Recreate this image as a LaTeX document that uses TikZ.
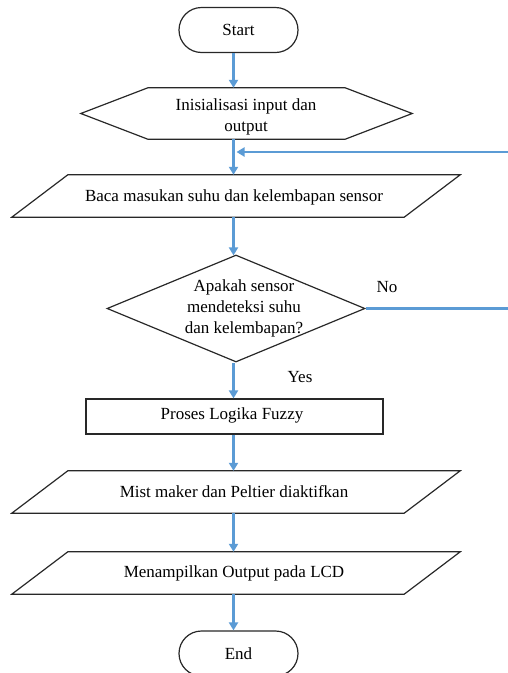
\documentclass[tikz,border=0pt]{standalone}
\usepackage{fontspec}
\setmainfont{Liberation Serif}
\usetikzlibrary{shapes.geometric,shapes.misc,arrows.meta}
\definecolor{flow}{RGB}{91,155,213}
\definecolor{edge}{RGB}{40,40,40}
\begin{document}
\begin{tikzpicture}[x=1pt,y=-1pt,
  every node/.style={font=\fontsize{17}{20.5}\selectfont},
  outline/.style={draw=edge, line width=1.2pt},
  term/.style={outline, rounded rectangle, minimum width=119pt, minimum height=45pt, inner sep=0pt},
  body/.style={inner sep=0pt, minimum height=42pt, minimum width=392pt},
  txt/.style={inner sep=0pt, align=center},
  flowline/.style={draw=flow, line width=2.4pt},
  flowarrow/.style={flowline, -{Triangle[width=9pt,length=8pt]}},
]
\useasboundingbox (0,0) rectangle (508,673);
\coordinate (axis) at (233.5,0);
\coordinate (rt) at (509.6,0);
\coordinate (mrg) at (236.5,152);

% Start
\node[term] (start) at (238.5,30) {Start};

% Init hexagon
\node[inner sep=0pt, minimum width=197pt, minimum height=51pt] (init) at (246.5,113.5) {};
\draw[outline] ([xshift=-67pt]init.west) -- (init.north west) -- (init.north east)
  -- ([xshift=67pt]init.east) -- (init.south east) -- (init.south west) -- cycle;
\node[txt] (initT) at (246,117) {Inisialisasi input dan\\output};

% Baca
\node[body] (baca) at (236,196) {};
\draw[outline] ([xshift=28pt]baca.north west) -- ([xshift=28pt]baca.north east)
  -- ([xshift=-28pt]baca.south east) -- ([xshift=-28pt]baca.south west) -- cycle;
\node[txt] (bacaT) at (234,197) {Baca masukan suhu dan kelembapan sensor};

% Decision
\node[outline, diamond, minimum width=258pt, minimum height=107pt, inner sep=0pt] (dec) at (236,308.5) {};
\node[txt, font=\fontsize{17}{21}\selectfont] (decT) at (244,308) {Apakah sensor\\mendeteksi suhu\\dan kelembapan?};

% Process
\node[outline, rectangle, minimum width=297pt, minimum height=35pt, inner sep=0pt] (proc) at (234.5,416.5) {};
\node[txt] (procT) at (232,415) {Proses Logika Fuzzy};

% Mist
\node[body] (mist) at (236,492) {};
\draw[outline] ([xshift=28pt]mist.north west) -- ([xshift=28pt]mist.north east)
  -- ([xshift=-28pt]mist.south east) -- ([xshift=-28pt]mist.south west) -- cycle;
\node[txt] (mistT) at (234,492) {Mist maker dan Peltier diaktifkan};

% Menampilkan
\node[body] (lcd) at (236,573) {};
\draw[outline] ([xshift=28pt]lcd.north west) -- ([xshift=28pt]lcd.north east)
  -- ([xshift=-28pt]lcd.south east) -- ([xshift=-28pt]lcd.south west) -- cycle;
\node[txt] (lcdT) at (234,573) {Menampilkan Output pada LCD};

% End
\node[term] (end) at (238.5,653.5) {End};

% Labels
\node[txt] (no) at (387,287) {No};
\node[txt] (yes) at (300,377) {Yes};

% Connectors
\draw[flowarrow] (start.south -| axis) -- (init.north -| axis);
\draw[flowarrow] (init.south -| axis) -- (baca.north -| axis);
\draw[flowarrow] (baca.south -| axis) -- ([yshift=-1pt]dec.north -| axis);
\draw[flowarrow] (dec.south -| axis) -- (proc.north -| axis);
\draw[flowarrow] (proc.south -| axis) -- (mist.north -| axis);
\draw[flowarrow] (mist.south -| axis) -- (lcd.north -| axis);
\draw[flowarrow] (lcd.south -| axis) -- (end.north -| axis);
\draw[flowarrow] (dec.east) -- (dec.east -| rt) -- (rt |- mrg) -- (mrg);
\end{tikzpicture}
\end{document}
